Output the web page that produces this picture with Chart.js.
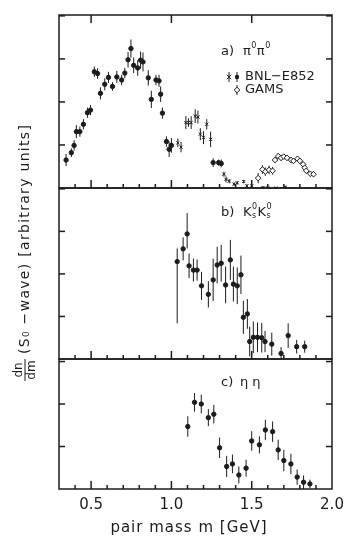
<!DOCTYPE html>
<html>
<head>
<meta charset="utf-8">
<script src="https://cdn.jsdelivr.net/npm/chart.js@4.4.0/dist/chart.umd.min.js"></script>
<style>
  html, body { margin: 0; padding: 0; background: #fff; }
  #wrap { width: 364px; height: 543px; }
</style>
</head>
<body>
<div id="wrap"><canvas id="spectra"></canvas></div>
<script>
// a) pi0 pi0, BNL-E852 (filled dots)
const piDotMass  = [0.344, 0.377, 0.394, 0.408, 0.43, 0.452, 0.477, 0.496, 0.52, 0.54, 0.558, 0.585, 0.608, 0.633, 0.66, 0.69, 0.71, 0.73, 0.748, 0.765, 0.79, 0.808, 0.823, 0.856, 0.875, 0.904, 0.923, 0.933, 0.944, 0.969, 0.986, 1.00, 1.26, 1.294, 1.31];
const piDotValue = [0.65, 0.82, 0.99, 1.31, 1.31, 1.48, 1.75, 1.81, 2.70, 2.66, 2.20, 2.41, 2.57, 2.36, 2.58, 2.51, 2.67, 2.98, 3.24, 2.85, 2.79, 2.97, 2.93, 2.56, 2.06, 2.51, 2.49, 2.18, 1.74, 1.08, 0.90, 0.99, 0.59, 0.59, 0.57];
const piDotErr   = [0.14, 0.10, 0.12, 0.15, 0.12, 0.12, 0.12, 0.12, 0.12, 0.12, 0.14, 0.14, 0.13, 0.10, 0.14, 0.12, 0.12, 0.18, 0.21, 0.18, 0.18, 0.20, 0.22, 0.18, 0.20, 0.12, 0.14, 0.18, 0.13, 0.12, 0.18, 0.17, 0.10, 0.07, 0.09];

// a) pi0 pi0, BNL-E852 (crosses)
const piCrossMass  = [1.04, 1.06, 1.09, 1.106, 1.123, 1.148, 1.165, 1.18, 1.20, 1.22, 1.244, 1.327, 1.34, 1.36, 1.39, 1.41, 1.45, 1.47, 1.50, 1.57, 1.60, 1.65, 1.71];
const piCrossValue = [1.05, 0.95, 1.52, 1.52, 1.52, 1.67, 1.65, 1.25, 1.17, 1.48, 1.13, 0.32, 0.20, 0.16, 0.09, 0.12, 0.15, 0.05, 0.05, 0.01, 0.00, 0.00, 0.02];
const piCrossErr   = [0.10, 0.12, 0.15, 0.10, 0.15, 0.16, 0.15, 0.14, 0.15, 0.12, 0.18, 0.06, 0.07, 0.05, 0.04, 0.04, 0.04, 0.04, 0.05, 0.03, 0.02, 0.02, 0.03];

// a) pi0 pi0, GAMS
const gamsMass  = [1.54, 1.567, 1.585, 1.608, 1.63, 1.645, 1.665, 1.683, 1.70, 1.72, 1.745, 1.76, 1.785, 1.80, 1.82, 1.83, 1.84, 1.865, 1.885];
const gamsValue = [0.23, 0.43, 0.38, 0.42, 0.40, 0.65, 0.74, 0.70, 0.73, 0.70, 0.65, 0.63, 0.68, 0.63, 0.55, 0.47, 0.40, 0.33, 0.32];
const gamsErr   = [0.12, 0.10, 0.10, 0.10, 0.09, 0.07, 0.07, 0.07, 0.06, 0.06, 0.06, 0.06, 0.06, 0.06, 0.06, 0.06, 0.06, 0.06, 0.06];

// b) Ks Ks
const kkMass    = [1.036, 1.073, 1.098, 1.11, 1.137, 1.16, 1.1875, 1.23, 1.26, 1.285, 1.31, 1.3375, 1.367, 1.386, 1.41, 1.433, 1.448, 1.473, 1.4875, 1.51, 1.536, 1.5625, 1.583, 1.625, 1.683, 1.727, 1.78, 1.83];
const kkValue   = [2.29, 2.59, 2.94, 2.19, 2.09, 2.09, 1.72, 1.52, 1.86, 2.21, 2.25, 1.74, 2.33, 1.76, 1.72, 1.98, 0.98, 1.06, 0.41, 0.51, 0.51, 0.50, 0.41, 0.35, 0.13, 0.55, 0.29, 0.29];
const kkErrLow  = [1.45, 0.27, 0.34, 0.29, 0.27, 0.25, 0.33, 0.31, 0.50, 0.43, 0.43, 0.43, 0.47, 0.41, 0.43, 0.45, 0.39, 0.35, 0.35, 0.37, 0.35, 0.35, 0.25, 0.27, 0.15, 0.29, 0.16, 0.14];
const kkErrHigh = [0.31, 0.27, 0.49, 0.29, 0.27, 0.25, 0.33, 0.31, 0.50, 0.43, 0.43, 0.43, 0.47, 0.41, 0.43, 0.45, 0.39, 0.35, 0.35, 0.37, 0.35, 0.35, 0.25, 0.27, 0.15, 0.29, 0.16, 0.14];

// c) eta eta
const etaMass  = [1.102, 1.144, 1.186, 1.23, 1.264, 1.30, 1.344, 1.38, 1.42, 1.465, 1.50, 1.548, 1.585, 1.63, 1.665, 1.70, 1.744, 1.783, 1.823, 1.8625];
const etaValue = [1.47, 2.04, 2.00, 1.68, 1.76, 0.97, 0.53, 0.59, 0.33, 0.49, 1.13, 1.04, 1.39, 1.35, 0.92, 0.67, 0.59, 0.28, 0.16, 0.12];
const etaErr   = [0.24, 0.22, 0.22, 0.20, 0.22, 0.24, 0.25, 0.22, 0.20, 0.20, 0.23, 0.20, 0.24, 0.24, 0.24, 0.25, 0.24, 0.18, 0.16, 0.10];

const massTicks = [0.5, 1.0, 1.5, 2.0];

const ink = '#1c1c1c';
const font = '"DejaVu Sans", sans-serif';

function points(mass, value) {
    return mass.map((m, i) => ({ x: m, y: value[i] }));
}

function series(mass, value, lo, hi, yAxisID, style) {
    return Object.assign({
        data: points(mass, value),
        errLow: lo,
        errHigh: hi || lo,
        yAxisID: yAxisID,
        showLine: false,
        borderColor: ink,
        backgroundColor: ink,
        borderWidth: 1,
        pointRadius: 2.2,
        pointHoverRadius: 2.2
    }, style);
}

// superscript / subscript helper for the panel labels
function drawSup(ctx, base, sup, sub, x, y) {
    ctx.font = '13px ' + font;
    ctx.fillText(base, x, y);
    x += ctx.measureText(base).width;
    ctx.font = '8px ' + font;
    if (sup) ctx.fillText(sup, x + 0.5, y - 6);
    if (sub) ctx.fillText(sub, x + 0.5, y + 3);
    return x + 6;
}

const panelIds = ['yA', 'yB', 'yC'];

const framePlugin = {
    id: 'frame',
    beforeDatasetsDraw(chart) {
        const ctx = chart.ctx;
        const { left, right } = chart.chartArea;
        chart.data.datasets.forEach((ds, i) => {
            const meta = chart.getDatasetMeta(i);
            const ys = chart.scales[ds.yAxisID];
            ctx.save();
            ctx.beginPath();
            ctx.rect(left, ys.top, right - left, ys.bottom - ys.top);
            ctx.clip();
            ctx.strokeStyle = ink;
            ctx.lineWidth = 1;
            meta.data.forEach((pt, j) => {
                const v = ds.data[j].y;
                ctx.beginPath();
                ctx.moveTo(pt.x, ys.getPixelForValue(v - ds.errLow[j]));
                ctx.lineTo(pt.x, ys.getPixelForValue(v + ds.errHigh[j]));
                ctx.stroke();
            });
            ctx.restore();
        });
    },
    afterDraw(chart) {
        const ctx = chart.ctx;
        const xs = chart.scales.x;
        const { left, right } = chart.chartArea;
        const line = (x1, y1, x2, y2) => {
            ctx.beginPath(); ctx.moveTo(x1, y1); ctx.lineTo(x2, y2); ctx.stroke();
        };
        ctx.save();
        ctx.strokeStyle = ink;
        ctx.lineWidth = 1.5;
        panelIds.forEach(id => {
            const s = chart.scales[id];
            ctx.strokeRect(left, s.top, right - left, s.bottom - s.top);
            for (let v = 1; v < s.max; v++) {
                const y = s.getPixelForValue(v);
                line(left, y, left + 6, y);
                line(right - 6, y, right, y);
            }
            for (let k = 4; k <= 19; k++) {
                const x = xs.getPixelForValue(k / 10);
                const len = k % 5 === 0 ? 8 : 4;
                line(x, s.bottom, x, s.bottom - len);
            }
        });
        const top = chart.scales.yA.top;
        [0.5, 1.0, 1.5].forEach(m => {
            const x = xs.getPixelForValue(m);
            line(x, top, x, top + 8);
        });

        // panel labels
        ctx.fillStyle = ink;
        ctx.textBaseline = 'middle';
        ctx.textAlign = 'left';
        const lx = 221;
        let y = chart.scales.yA.top + 37;
        ctx.font = '13px ' + font;
        ctx.fillText('a)', lx, y);
        let x = drawSup(ctx, 'π', '0', null, 243, y);
        drawSup(ctx, 'π', '0', null, x, y);

        // legend
        ctx.lineWidth = 1;
        y = chart.scales.yA.top + 62;
        line(229, y - 5, 229, y + 5);
        line(226.8, y - 2.2, 231.2, y + 2.2);
        line(226.8, y + 2.2, 231.2, y - 2.2);
        line(237, y - 5, 237, y + 5);
        ctx.beginPath(); ctx.arc(237, y, 2.2, 0, Math.PI * 2); ctx.fill();
        ctx.font = '13px ' + font;
        ctx.fillText('BNL\u2212E852', 245, y);
        y += 13;
        line(237, y - 5, 237, y + 5);
        ctx.beginPath();
        ctx.moveTo(237, y - 2.8); ctx.lineTo(239.8, y); ctx.lineTo(237, y + 2.8); ctx.lineTo(234.2, y); ctx.closePath();
        ctx.fillStyle = '#fff'; ctx.fill(); ctx.stroke();
        ctx.fillStyle = ink;
        ctx.fillText('GAMS', 245, y);

        y = chart.scales.yB.top + 25;
        ctx.font = '13px ' + font;
        ctx.fillText('b)', lx, y);
        x = drawSup(ctx, 'K', '0', 's', 243, y);
        drawSup(ctx, 'K', '0', 's', x, y);

        y = chart.scales.yC.top + 24;
        ctx.font = '13px ' + font;
        ctx.fillText('c)', lx, y);
        ctx.fillText('η η', 240, y);

        // x title
        ctx.font = '15px ' + font;
        ctx.letterSpacing = '1px';
        ctx.textAlign = 'center';
        ctx.fillText('pair mass m [GeV]', 189, 528);

        // y title, rotated
        ctx.translate(25, 253);
        ctx.rotate(-Math.PI / 2);
        ctx.letterSpacing = '0px';
        ctx.font = '12px ' + font;
        ctx.fillText('dn', -117, -6.5);
        ctx.fillText('dm', -117, 6.5);
        ctx.lineWidth = 1;
        line(-128, 0, -106, 0);
        ctx.textAlign = 'left';
        ctx.font = '14px ' + font;
        ctx.letterSpacing = '1.3px';
        ctx.fillText('(S\u2080 \u2212wave) [arbitrary units]', -101, 0.5);
        ctx.restore();
    }
};

const hiddenY = (max, weight) => ({
    type: 'linear',
    position: 'left',
    stack: 'panels',
    stackWeight: weight,
    min: 0,
    max: max,
    ticks: { display: false },
    grid: { display: false },
    border: { display: false },
    afterFit: s => { s.width = 0; }
});

const ctx = document.getElementById('spectra').getContext('2d');
const spectraChart = new Chart(ctx, {
    type: 'scatter',
    data: {
        datasets: [
            series(piDotMass, piDotValue, piDotErr, null, 'yA', {}),
            series(piCrossMass, piCrossValue, piCrossErr, null, 'yA', { pointStyle: 'crossRot', pointRadius: 2.2 }),
            series(gamsMass, gamsValue, gamsErr, null, 'yA', { pointStyle: 'rectRot', pointRadius: 2.8, backgroundColor: '#fff' }),
            series(kkMass, kkValue, kkErrLow, kkErrHigh, 'yB', {}),
            series(etaMass, etaValue, etaErr, null, 'yC', {})
        ]
    },
    options: {
        responsive: true,
        maintainAspectRatio: false,
        animation: false,
        layout: { padding: { left: 59, right: 32, top: 15, bottom: 0 } },
        plugins: { legend: { display: false }, tooltip: { enabled: false } },
        scales: {
            x: {
                type: 'linear',
                min: 0.3,
                max: 2.0,
                grid: { display: false, drawTicks: false },
                border: { display: false },
                afterBuildTicks: axis => { axis.ticks = massTicks.map(v => ({ value: v })); },
                afterFit: s => { s.height = 54; },
                ticks: {
                    padding: 7,
                    color: ink,
                    font: { family: font, size: 15 },
                    callback: v => v.toFixed(1)
                }
            },
            // left-hand stacked axes are laid out last-first, so the bottom panel comes first
            yC: hiddenY(3.06, 130),
            yB: hiddenY(4.02, 171),
            yA: hiddenY(4.02, 173)
        }
    },
    plugins: [framePlugin]
});
</script>
</body>
</html>
